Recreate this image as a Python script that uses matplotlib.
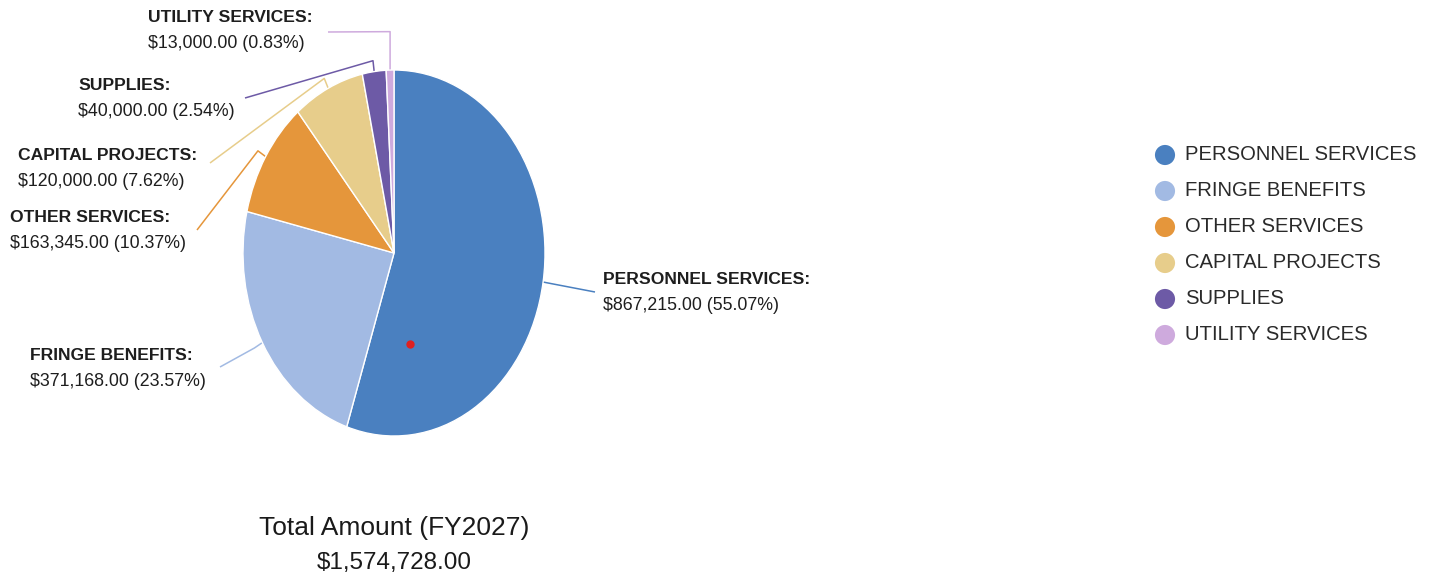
import numpy as np
import matplotlib
matplotlib.use("Agg")
import matplotlib.pyplot as plt

plt.rcParams['font.family'] = ['Liberation Sans Narrow', 'Liberation Sans', 'DejaVu Sans']

# data
categories = ['PERSONNEL SERVICES', 'FRINGE BENEFITS', 'OTHER SERVICES',
              'CAPITAL PROJECTS', 'SUPPLIES', 'UTILITY SERVICES']
amounts = [867215.00, 371168.00, 163345.00, 120000.00, 40000.00, 13000.00]
colors = ['#4a80c0', '#a2bae3', '#e5963b', '#e7cd8b', '#6d5aa6', '#ceaadd']
total_label = 'Total Amount (FY2027)'

total = sum(amounts)
pcts = [a / total * 100 for a in amounts]

W, H = 1432, 578
fig = plt.figure(figsize=(W / 100, H / 100), dpi=100)

# pie is slightly stretched vertically in the reference
CX, CY, RX, RY = 394, 253, 151, 183
ax = fig.add_axes([(CX - RX) / W, (H - CY - RY) / H, 2 * RX / W, 2 * RY / H])
wedges, _ = ax.pie(amounts, colors=colors, startangle=90, counterclock=False,
                   radius=1, wedgeprops=dict(edgecolor='white', linewidth=1.0))
ax.set_xlim(-1, 1)
ax.set_ylim(-1, 1)
ax.set_aspect('auto')
ax.axis('off')
# stray red dot from the original screenshot
ax.plot([0.106], [-0.497], 'o', color='#e02020', markersize=5)

# overlay in pixel coords for labels, leaders, legend
ov = fig.add_axes([0, 0, 1, 1], zorder=-1)
ov.set_xlim(0, W)
ov.set_ylim(H, 0)
ov.axis('off')

# label layout: text left x, first line y, leader end point, elbow radius
lab_x = [603, 30, 10, 18, 78, 148]
lab_y = [279, 356, 218, 155, 86, 18]
end_pts = [(595, 292), (220, 367), (197, 230), (210, 163), (245, 98), (328, 32)]
elbow_r = [1.06, 1.06, 1.06, 1.06, 1.06, 1.21]

for w, name, amt, p, col, tx, ty, (ex, ey), er in zip(
        wedges, categories, amounts, pcts, colors, lab_x, lab_y, end_pts, elbow_r):
    th = np.deg2rad((w.theta1 + w.theta2) / 2)
    x0, y0 = CX + RX * np.cos(th), CY - RY * np.sin(th)
    x1, y1 = CX + RX * er * np.cos(th), CY - RY * er * np.sin(th)
    if er > 1.1:
        x1 = x0
    ov.plot([x0, x1, ex], [y0, y1, ey], color=col, lw=1.1, solid_capstyle='butt')
    ov.text(tx, ty, name + ':', fontsize=12.6, fontweight='bold', color='#1e1e1e',
            ha='left', va='center')
    ov.text(tx, ty + 26, f'${amt:,.2f} ({p:.2f}%)', fontsize=12.8, color='#1e1e1e',
            ha='left', va='center')

# legend
leg_y0, leg_dy = 155, 36
for i, (name, col) in enumerate(zip(categories, colors)):
    ov.scatter([1165], [leg_y0 + i * leg_dy], s=210, color=col, edgecolors='none')
    ov.text(1185, leg_y0 + i * leg_dy, name, fontsize=14.6, color='#2a2a2a',
            ha='left', va='center')

# total
ov.text(CX, 528, total_label, fontsize=19, color='#1a1a1a', ha='center', va='center')
ov.text(CX, 563, f'${total:,.2f}', fontsize=17.5, color='#1a1a1a', ha='center', va='center')

fig.savefig('out.png', dpi=100)
